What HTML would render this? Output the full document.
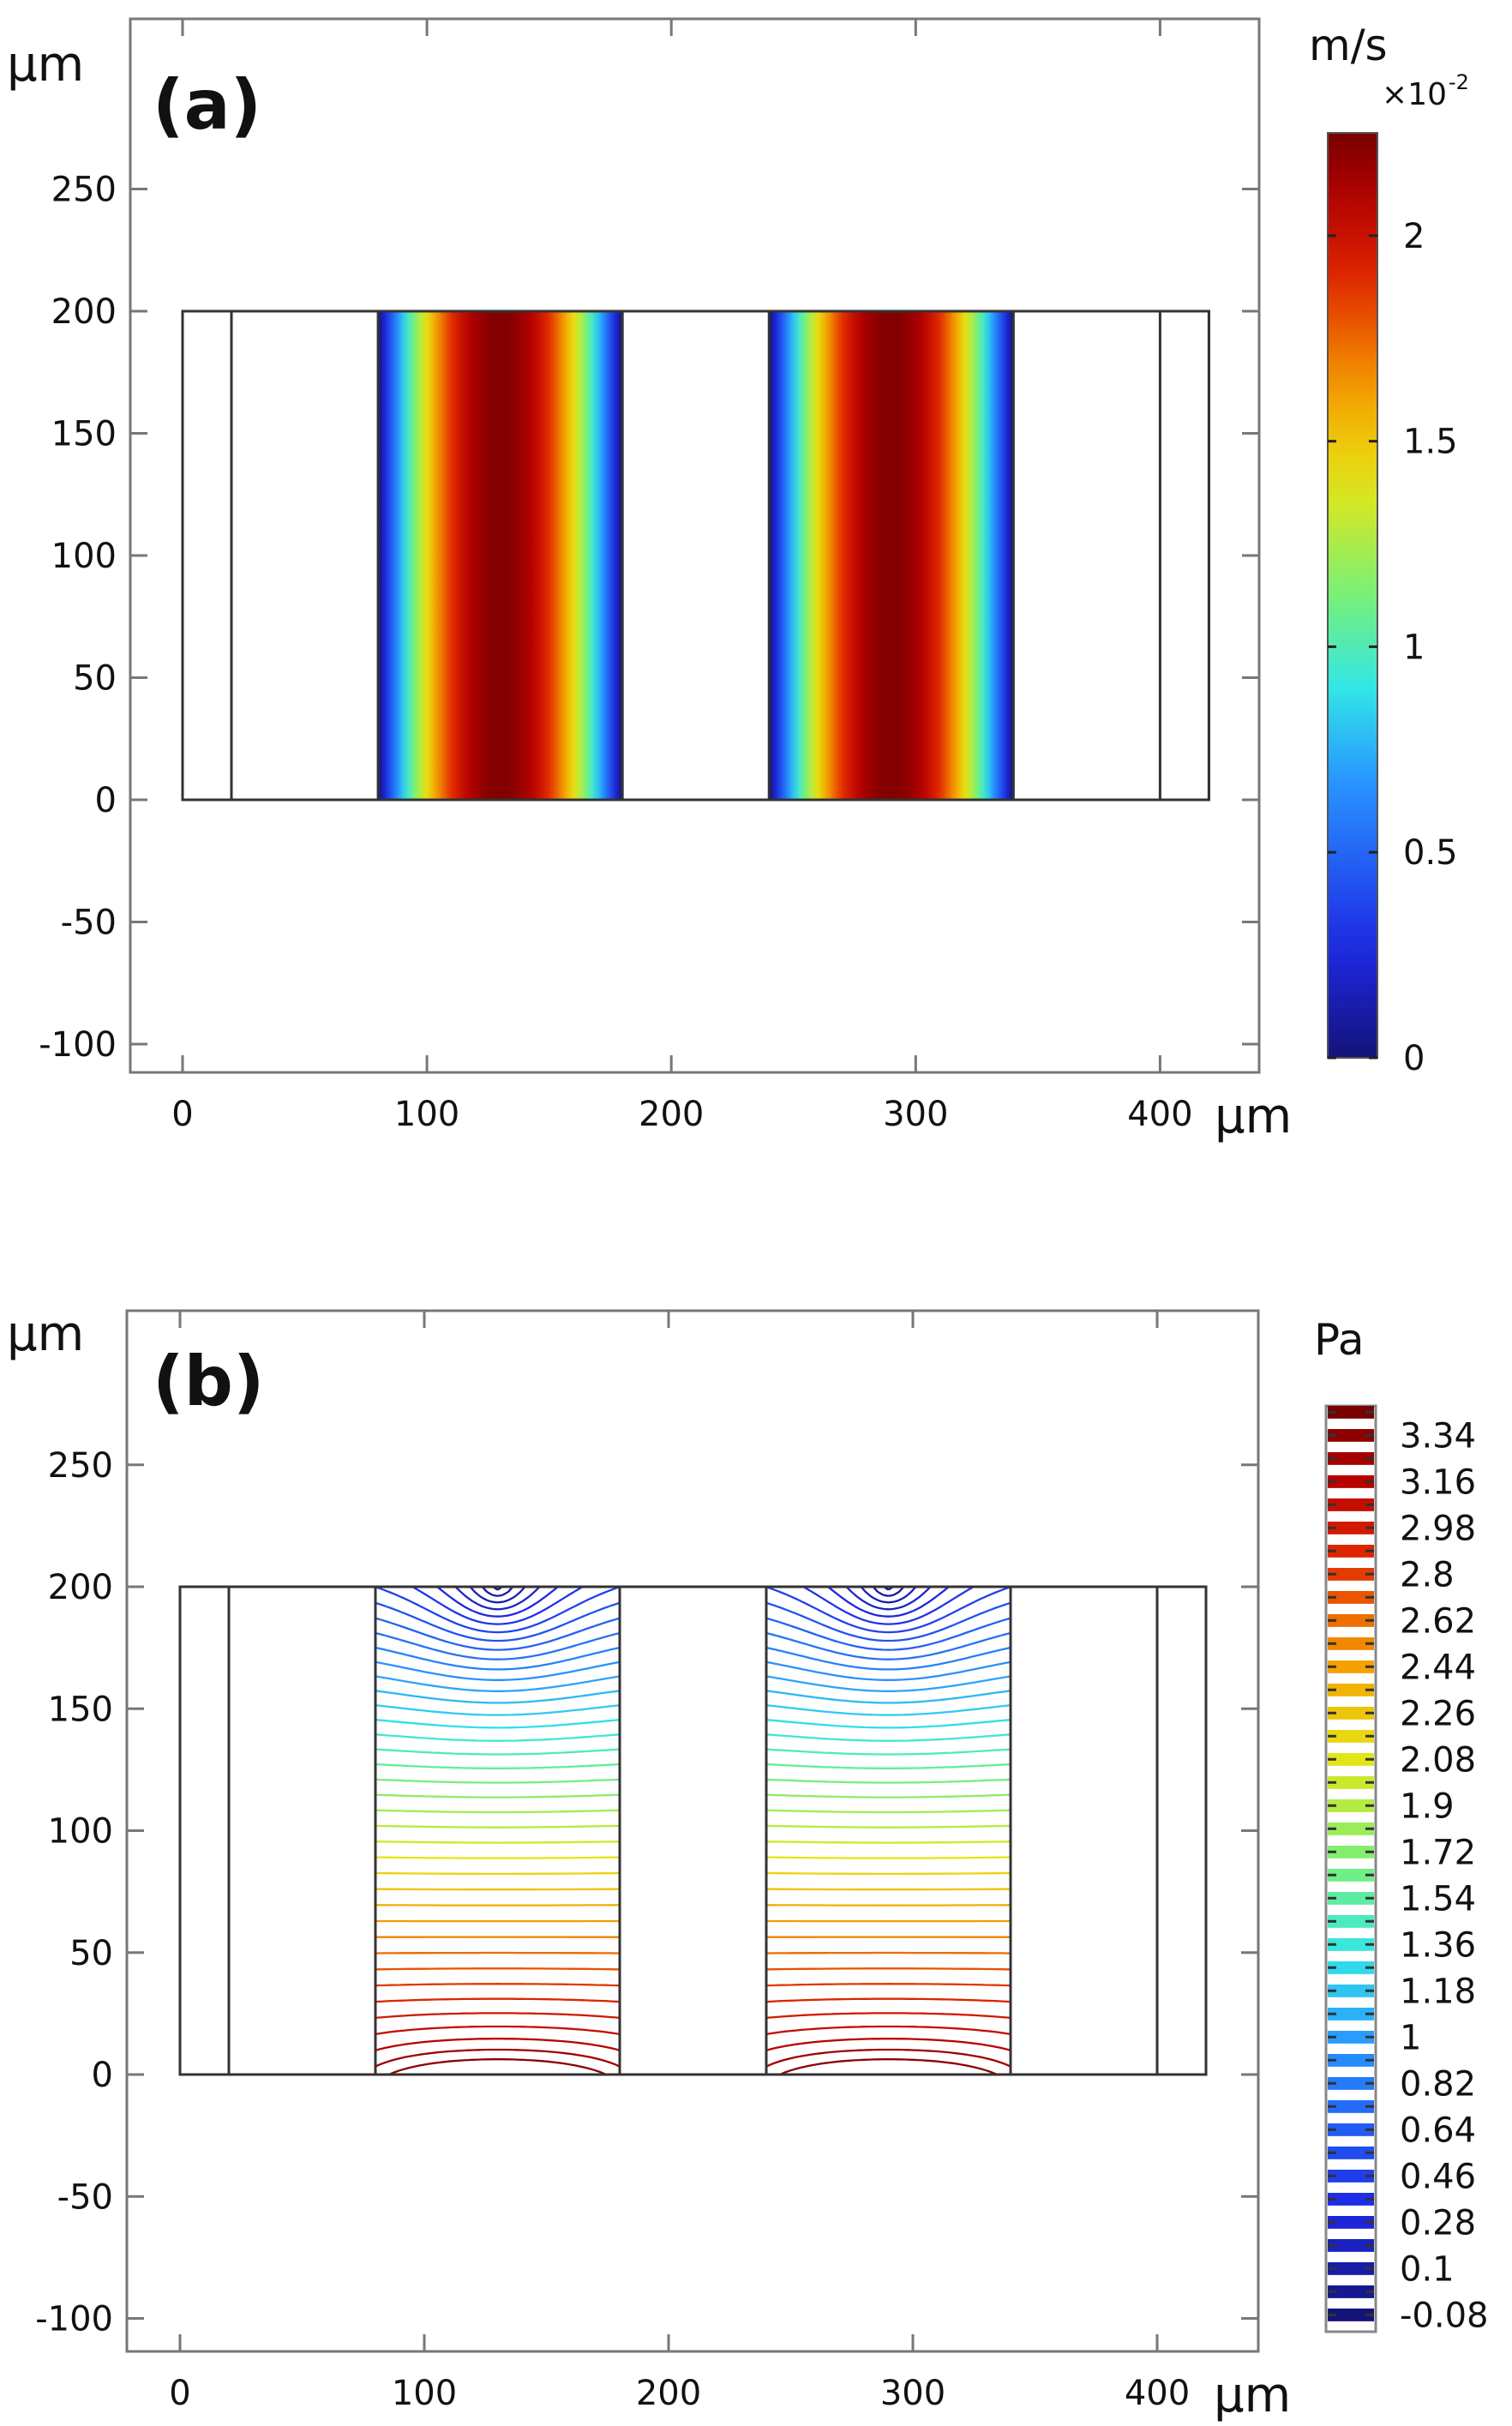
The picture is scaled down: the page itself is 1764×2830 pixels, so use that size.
<!DOCTYPE html>
<html><head><meta charset="utf-8">
<style>
html,body{margin:0;padding:0;background:#fff;}
svg{display:block;font-family:"DejaVu Sans","Liberation Sans",sans-serif;}
</style></head>
<body>
<svg id="fig" width="1764" height="2830" viewBox="0 0 1764 2830" xmlns="http://www.w3.org/2000/svg">
<defs>
<linearGradient id="velgrad" x1="0" y1="0" x2="1" y2="0"></linearGradient>
<linearGradient id="cbgrad" x1="0" y1="1" x2="0" y2="0"></linearGradient>
</defs>
<g id="panelA"></g>
<g id="panelB"></g>
</svg>
<script>
// ---- data ----
const xTicks = [0, 100, 200, 300, 400];
const yTicks = [-100, -50, 0, 50, 100, 150, 200, 250];
const boundaryX = [0, 20, 80, 180, 240, 340, 400, 420];
const channels = [[80, 180], [240, 340]];
const velMax = 2.25;
const velTicks = [0, 0.5, 1, 1.5, 2];
const presLabels = [3.34, 3.16, 2.98, 2.8, 2.62, 2.44, 2.26, 2.08, 1.9, 1.72, 1.54, 1.36, 1.18, 1, 0.82, 0.64, 0.46, 0.28, 0.1, -0.08];
const presMin = -0.12, presMax = 3.43, presStep = 0.09;

const NS = "http://www.w3.org/2000/svg";
function mk(parent, tag, attrs, txt){
  const e = document.createElementNS(NS, tag);
  for (const k in attrs) e.setAttribute(k, attrs[k]);
  if (txt !== undefined) e.textContent = txt;
  parent.appendChild(e); return e;
}
function jet(t){
  t = Math.max(0, Math.min(1, t));
  const stops = [[0,[20,20,120]],[0.12,[30,40,230]],[0.3,[40,150,255]],[0.4,[50,230,230]],[0.5,[120,240,120]],[0.62,[230,230,20]],[0.72,[245,160,0]],[0.84,[225,40,0]],[0.93,[180,0,0]],[1,[120,0,0]]];
  for (let i=1;i<stops.length;i++){
    if (t<=stops[i][0]){
      const a=stops[i-1], b=stops[i], f=(t-a[0])/(b[0]-a[0]);
      const c=a[1].map((v,j)=>Math.round(v+(b[1][j]-v)*f));
      return `rgb(${c[0]},${c[1]},${c[2]})`;
    }
  }
  return "rgb(120,0,0)";
}
const vg = document.getElementById('velgrad');
for (let i=0;i<=40;i++){
  const u = i/40*2-1;
  const v = velMax*0.99*(1-u*u);
  mk(vg,'stop',{offset:(i/40).toFixed(3),'stop-color':jet(v/velMax)});
}
const cg = document.getElementById('cbgrad');
for (let i=0;i<=20;i++) mk(cg,'stop',{offset:(i/20).toFixed(2),'stop-color':jet(i/20)});

function panel(g, P){
  const X = v => P.x0 + v*P.sx;
  const Y = v => P.y0 - v*P.sy;
  const fr = mk(g,'rect',{x:P.fl,y:P.ft,width:P.fr-P.fl,height:P.fb-P.ft,fill:'none',stroke:'#777','stroke-width':3});
   
  xTicks.forEach(t=>{
    mk(g,'line',{x1:X(t),x2:X(t),y1:P.fb,y2:P.fb-20,stroke:'#777','stroke-width':3});
    mk(g,'line',{x1:X(t),x2:X(t),y1:P.ft,y2:P.ft+20,stroke:'#777','stroke-width':3});
    const tl = mk(g,'text',{x:X(t),y:P.fb+62,'font-size':40,'text-anchor':'middle',fill:'#111'},String(t));
     
  });
  yTicks.forEach(t=>{
    mk(g,'line',{x1:P.fl,x2:P.fl+20,y1:Y(t),y2:Y(t),stroke:'#777','stroke-width':3});
    mk(g,'line',{x1:P.fr,x2:P.fr-20,y1:Y(t),y2:Y(t),stroke:'#777','stroke-width':3});
    const tl = mk(g,'text',{x:P.fl-16,y:Y(t)+14,'font-size':40,'text-anchor':'end',fill:'#111'},String(t));
     
  });
  const yu = mk(g,'text',{x:8,y:P.ft+P.uy,'font-size':56,fill:'#111'},'μm');
   
  const xu = mk(g,'text',{x:P.fr-52,y:P.fb+70,'font-size':56,fill:'#111'},'μm');
   
  const lb = mk(g,'text',{x:178,y:P.ft+P.ly,'font-size':80,'font-weight':'bold',fill:'#111'},P.label);
   
  return {X,Y};
}
function geometry(g, X, Y){
  mk(g,'rect',{x:X(0),y:Y(200),width:X(420)-X(0),height:Y(0)-Y(200),fill:'none',stroke:'#333','stroke-width':3});
  boundaryX.forEach(b=>{ mk(g,'line',{x1:X(b),x2:X(b),y1:Y(200),y2:Y(0),stroke:'#333','stroke-width':3}); });
}

// ---- Panel A ----
const gA = document.getElementById('panelA');
const A = panel(gA,{x0:213,sx:2.851,y0:933,sy:2.85,fl:152,fr:1469,ft:22,fb:1251,label:'(a)',uy:72,ly:128});
channels.forEach(c=>{
  const r = mk(gA,'rect',{x:A.X(c[0]),y:A.Y(200),width:A.X(c[1])-A.X(c[0]),height:A.Y(0)-A.Y(200),fill:'url(#velgrad)'});
   
});
geometry(gA,A.X,A.Y);
{
  const top=155, bot=1234, cx=1549, w=58;
  const yv = v => bot - v/velMax*(bot-top);
  const cb = mk(gA,'rect',{x:cx,y:top,width:w,height:bot-top,fill:'url(#cbgrad)',stroke:'#555','stroke-width':2});
   
  velTicks.forEach(t=>{
    mk(gA,'line',{x1:cx,x2:cx+10,y1:yv(t),y2:yv(t),stroke:'#222','stroke-width':3});
    mk(gA,'line',{x1:cx+w-10,x2:cx+w,y1:yv(t),y2:yv(t),stroke:'#222','stroke-width':3});
    const tl = mk(gA,'text',{x:cx+w+30,y:yv(t)+14,'font-size':40,fill:'#111'},String(t));
     
  });
  const u = mk(gA,'text',{x:1527,y:70,'font-size':50,fill:'#111'},'m/s');
   
  const m = mk(gA,'text',{x:1612,y:122,'font-size':36,fill:'#111'},'×10');
   
  mk(gA,'text',{x:1690,y:104,'font-size':24,fill:'#111'},'-2');
}

// ---- Panel B ----
const gB = document.getElementById('panelB');
const B = panel(gB,{x0:210,sx:2.85,y0:2420,sy:2.845,fl:148,fr:1468,ft:1529,fb:2743,label:'(b)',uy:46,ly:110});
function pressure(x,y){
  const u=(x-130)/50;
  const r=Math.hypot(x-130,(y-200));
  return 3.3 - 0.0135*y + 0.22*Math.exp(-y/12)*(1-u*u) - 0.72*Math.exp(-r/30);
}
const levels=[];
for (let L=presMin+presStep/2; L<presMax; L+=presStep) levels.push(L);
channels.forEach(c=>{
  const gc = mk(gB,'g',{});
   
  const dx=2, dy=2, nx=Math.round((c[1]-c[0])/dx), ny=Math.round(200/dy);
  const F=[];
  for(let j=0;j<=ny;j++){F.push([]);for(let i=0;i<=nx;i++)F[j].push(pressure(80+i*dx,j*dy));}
  levels.forEach(L=>{
    let d='';
    for(let j=0;j<ny;j++)for(let i=0;i<nx;i++){
      const v=[F[j][i],F[j][i+1],F[j+1][i+1],F[j+1][i]];
      const pts=[[i,j],[i+1,j],[i+1,j+1],[i,j+1]];
      const cr=[];
      for(let k=0;k<4;k++){const a=v[k],b=v[(k+1)%4];
        if((a<L)!==(b<L)){const f=(L-a)/(b-a);const p=pts[k],q=pts[(k+1)%4];
          cr.push([p[0]+(q[0]-p[0])*f,p[1]+(q[1]-p[1])*f]);}}
      for(let k=0;k+1<cr.length;k+=2){
        const p1=cr[k],p2=cr[k+1];
        d+=`M${B.X(c[0]+p1[0]*dx).toFixed(1)} ${B.Y(p1[1]*dy).toFixed(1)}L${B.X(c[0]+p2[0]*dx).toFixed(1)} ${B.Y(p2[1]*dy).toFixed(1)}`;
      }
    }
    if(d) mk(gc,'path',{d:d,stroke:jet((L-presMin)/(presMax-presMin)),'stroke-width':2.3,fill:'none'});
  });
});
geometry(gB,B.X,B.Y);
{
  const top=1640, bot=2720, cx=1547, w=58, n=40, per=(bot-top)/n;
  const gcb = mk(gB,'g',{});
   
  mk(gcb,'rect',{x:cx,y:top,width:w,height:bot-top,fill:'#fff',stroke:'#888','stroke-width':3});
  for(let k=0;k<n;k++){
    const yy=top+k*per;
    const val=(n-1-k)/(n-1);
    mk(gcb,'rect',{x:cx+2,y:yy,width:w-4,height:per*0.55,fill:jet(val)});
    mk(gcb,'line',{x1:cx+2,x2:cx+12,y1:yy+per*0.27,y2:yy+per*0.27,stroke:'#333','stroke-width':3});
    mk(gcb,'line',{x1:cx+w-12,x2:cx+w-2,y1:yy+per*0.27,y2:yy+per*0.27,stroke:'#333','stroke-width':3});
  }
  presLabels.forEach((t,i)=>{
    const yy=top+(2*i+1)*per+per*0.27;
    const tl = mk(gB,'text',{x:cx+w+28,y:yy+14,'font-size':40,fill:'#111'},String(t));
     
  });
  const u = mk(gB,'text',{x:1533,y:1580,'font-size':50,fill:'#111'},'Pa');
   
}
</script>
</body></html>
